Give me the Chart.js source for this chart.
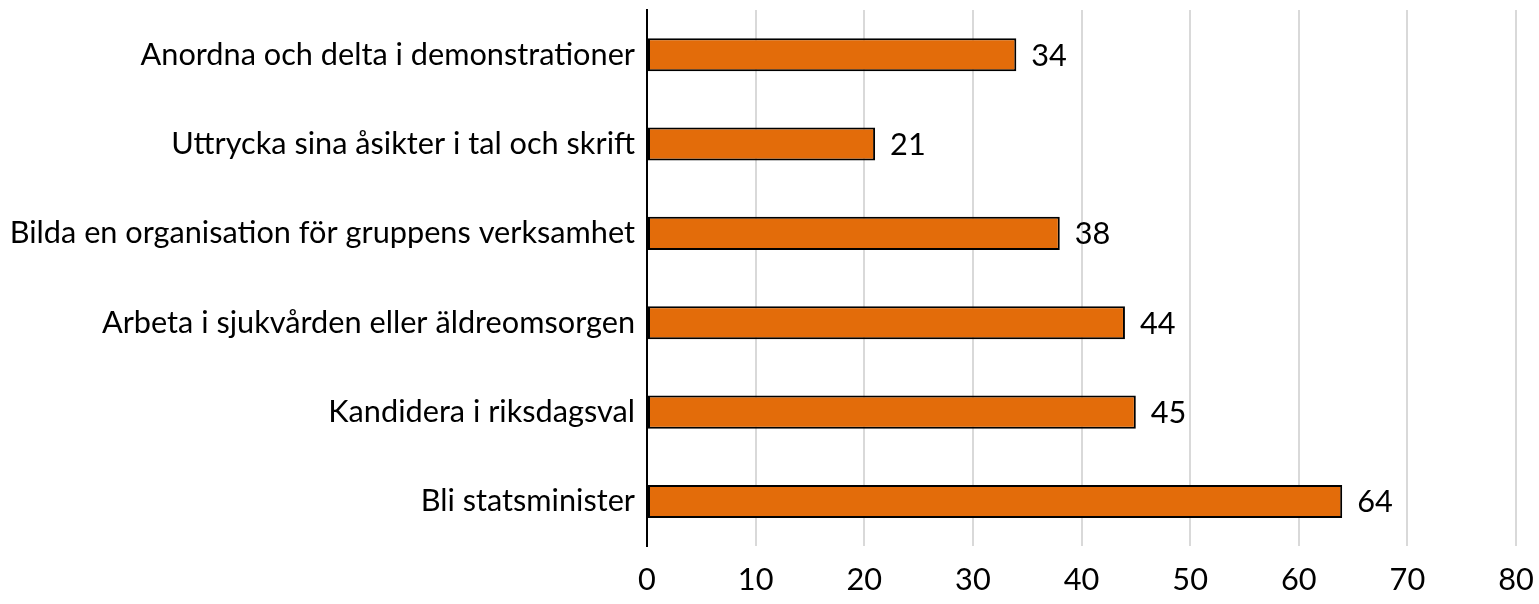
<!DOCTYPE html>
<html>
<head>
<meta charset="utf-8">
<script src="https://cdn.jsdelivr.net/npm/chart.js@4"></script>
<style>
html,body{margin:0;padding:0;background:#fff;}
#wrap{width:1539px;height:604px;position:relative;}
</style>
</head>
<body>
<div id="wrap"><canvas id="c"></canvas></div>
<script>
const categories = [
  "Anordna och delta i demonstrationer",
  "Uttrycka sina åsikter i tal och skrift",
  "Bilda en organisation för gruppens verksamhet",
  "Arbeta i sjukvården eller äldreomsorgen",
  "Kandidera i riksdagsval",
  "Bli statsminister"
];
const values = [34, 21, 38, 44, 45, 64];
const xMin = 0, xMax = 80, xStep = 10;

const FONT = "Lato, 'Open Sans', sans-serif";
const FS = 30.7;

const labelPlugin = {
  id: 'barLabels',
  afterDatasetsDraw(chart) {
    const ctx = chart.ctx;
    const meta = chart.getDatasetMeta(0);
    ctx.save();
    ctx.font = FS + "px " + FONT;
    ctx.fillStyle = "#000";
    ctx.textAlign = "left";
    ctx.textBaseline = "middle";
    meta.data.forEach((bar, i) => {
      ctx.fillText(String(values[i]), bar.x + 15, bar.y + 1);
    });
    ctx.restore();
  }
};

new Chart(document.getElementById('c'), {
  type: 'bar',
  data: {
    labels: categories,
    datasets: [{
      data: values,
      backgroundColor: '#E36C0A',
      borderColor: '#000',
      borderWidth: 2,
      borderSkipped: false,
      categoryPercentage: 1,
      barPercentage: 0.37
    }]
  },
  options: {
    indexAxis: 'y',
    responsive: true,
    maintainAspectRatio: false,
    animation: false,
    layout: { padding: { top: 10, right: 23, bottom: -11, left: 0 } },
    plugins: { legend: { display: false }, tooltip: { enabled: false } },
    scales: {
      x: {
        min: xMin, max: xMax,
        ticks: { stepSize: xStep, color: '#000', font: { family: FONT, size: FS }, padding: 16 },
        grid: { color: '#d9d9d9', lineWidth: 2, drawTicks: false },
        border: { display: false },
        afterFit(scale) { scale.paddingLeft = 0; scale.paddingRight = 0; }
      },
      y: {
        ticks: { color: '#000', font: { family: FONT, size: FS }, padding: 12 },
        grid: { display: false, drawTicks: false },
        border: { display: true, color: '#000', width: 2 },
        afterFit(scale) { scale.width = 647; scale.paddingTop = 0; scale.paddingBottom = 0; }
      }
    }
  },
  plugins: [labelPlugin]
});
</script>
</body>
</html>
